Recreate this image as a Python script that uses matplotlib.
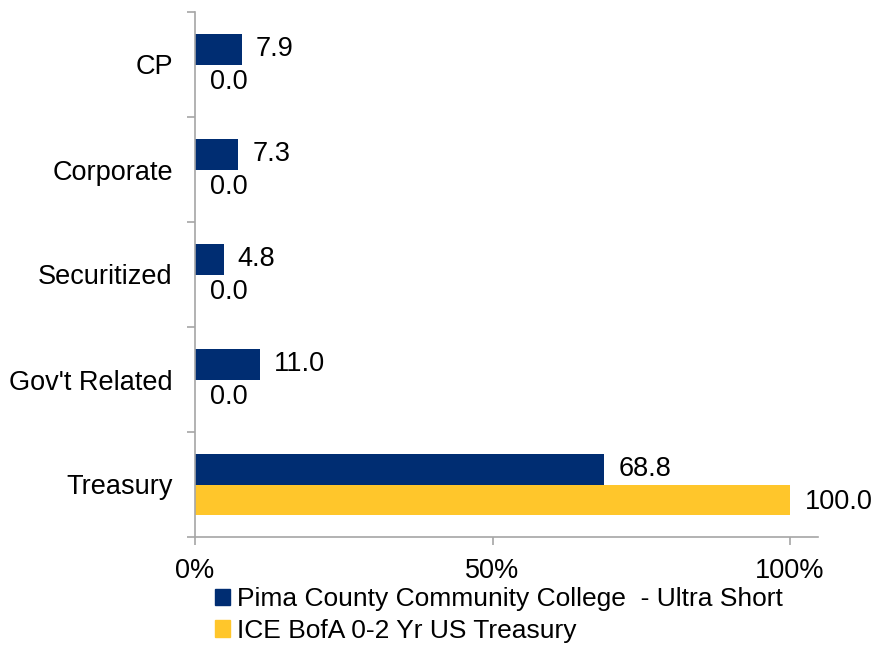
import numpy as np
import matplotlib.pyplot as plt
from matplotlib.patches import Patch

plt.rcParams['font.family'] = ['Liberation Sans', 'DejaVu Sans']

# Sector allocation (%), listed bottom to top
categorias = ["Treasury", "Gov't Related", "Securitized", "Corporate", "CP"]
carteira = [68.8, 11.0, 4.8, 7.3, 7.9]
benchmark = [100.0, 0.0, 0.0, 0.0, 0.0]
nome_carteira = "Pima County Community College  - Ultra Short"
nome_benchmark = "ICE BofA 0-2 Yr US Treasury"
x_ticks = [0, 50, 100]

cor_carteira = "#002D72"
cor_benchmark = "#FFC62B"
cinza = "#A6A6A6"
fs = 19.5

fig = plt.figure(figsize=(8.75, 6.45), dpi=100)
ax = fig.add_axes([195 / 875, 1 - 537 / 645, 623 / 875, 525 / 645])

y = np.arange(len(categorias))
h = 0.286
ax.barh(y + h / 2, carteira, height=h, color=cor_carteira)
ax.barh(y - h / 2, benchmark, height=h, color=cor_benchmark)

for yi, v in zip(y, carteira):
    ax.annotate(f"{v:.1f}", (v, yi + h / 2), xytext=(10, 0), textcoords="offset points",
                va="center", ha="left", fontsize=fs)
for yi, v in zip(y, benchmark):
    ax.annotate(f"{v:.1f}", (v, yi - h / 2), xytext=(11, -2), textcoords="offset points",
                va="center", ha="left", fontsize=fs)

ax.set_xlim(0, 104.7)
ax.set_ylim(-0.5, len(categorias) - 0.5)
ax.set_xticks(x_ticks)
ax.set_xticklabels([f"{t}%" for t in x_ticks], fontsize=fs)
ax.set_yticks(np.arange(-0.5, len(categorias) + 0.5, 1.0))
ax.set_yticklabels([])
ax.set_yticks(y, minor=True)
ax.set_yticklabels(categorias, minor=True, fontsize=fs)
ax.tick_params(axis="y", which="minor", length=0, pad=16)
ax.tick_params(axis="y", which="major", length=6, color=cinza, width=1.2)
ax.tick_params(axis="x", length=6, color=cinza, width=1.2, pad=9)

for lado in ["top", "right"]:
    ax.spines[lado].set_visible(False)
for lado in ["left", "bottom"]:
    ax.spines[lado].set_color(cinza)
    ax.spines[lado].set_linewidth(1.2)

handles = [Patch(color=cor_carteira), Patch(color=cor_benchmark)]
fig.legend(handles, [nome_carteira, nome_benchmark], loc="upper left",
           bbox_to_anchor=(215 / 875, 1 - 587 / 645), frameon=False, fontsize=19,
           handlelength=0.57, handleheight=0.57, handletextpad=0.28, labelspacing=0.3,
           borderpad=0, borderaxespad=0)

fig.savefig("out.png", dpi=100)
